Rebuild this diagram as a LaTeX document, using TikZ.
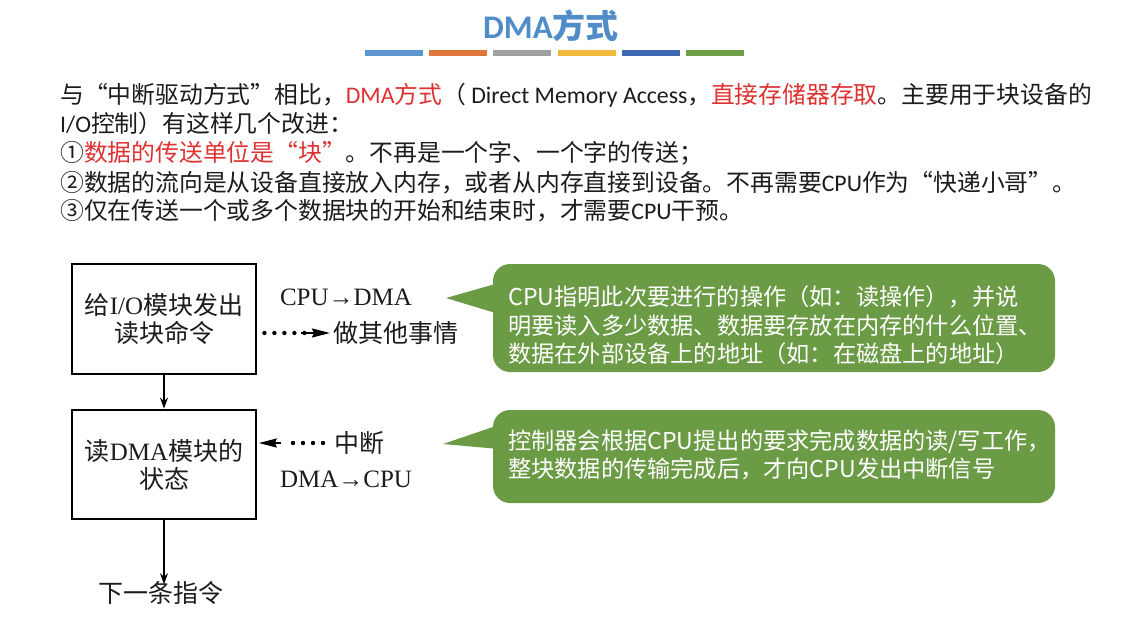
\documentclass[tikz,border=0pt]{standalone}
\usepackage{fontspec}
\setmainfont{Noto Sans CJK SC}
\newfontfamily\lat{Carlito}
\newfontfamily\ser{Liberation Serif}
\usetikzlibrary{arrows.meta,calc}
\definecolor{cg}{RGB}{108,155,70}
\definecolor{ttl}{RGB}{80,140,200}
\definecolor{txt}{RGB}{28,28,28}
\definecolor{red1}{RGB}{222,50,50}
\definecolor{b1}{RGB}{91,150,205}
\definecolor{b2}{RGB}{222,118,62}
\definecolor{b3}{RGB}{160,160,160}
\definecolor{b4}{RGB}{240,185,60}
\definecolor{b5}{RGB}{64,105,180}
\definecolor{b6}{RGB}{112,160,72}
\begin{document}
\begin{tikzpicture}[x=1pt,y=-1pt,
  para/.style={anchor=base west, inner sep=0pt, text=txt, font=\fontsize{23.8}{28}\selectfont},
  lbl/.style={inner sep=0pt, text=txt, font=\fontsize{25}{29}\selectfont},
  stepbox/.style={draw=black, line width=2.8pt, minimum width=184pt, align=center, inner sep=0pt, text=txt, font=\fontsize{25}{28}\selectfont},
  callout/.style={fill=cg, rounded corners=17pt, minimum width=562pt, inner sep=0pt},
  ctext/.style={anchor=base west, inner sep=0pt, text=white, font=\fontsize{23.2}{28}\selectfont},
  arr/.style={line width=1.5pt, -{Stealth[length=11pt,width=8pt]}},
  dotline/.style={line width=4.4pt, line cap=round, dash pattern=on 0pt off 10pt},
  headarr/.style={line width=2pt, -{Stealth[length=18pt,width=9pt,inset=2pt]}},
  bar/.style={minimum width=58pt, minimum height=6pt, inner sep=0pt}
]
\useasboundingbox (0,0) rectangle (1123,629);
\fill[white] (0,0) rectangle (1123,629);

% title
\node[inner sep=0pt, text=ttl, font=\fontsize{33}{36}\selectfont\bfseries] (title) at (551,26) {{\lat\bfseries DMA}方式};
\foreach \c [count=\i from 0] in {b1,b2,b3,b4,b5,b6}{
  \node[bar, fill=\c] (bar\i) at (394+64.2*\i,53) {};
}

% paragraph
\node[para] (l1) at (60,103) {与“中断驱动方式”相比，\textcolor{red1}{{\lat DMA}方式}（{\lat\ Direct Memory Access}，\textcolor{red1}{直接存储器存取}。主要用于块设备的};
\node[para] (l2) at (60,132) {{\lat I/O}控制）有这样几个改进：};
\node[para] (l3) at (60,161) {①\textcolor{red1}{数据的传送单位是“块”}。不再是一个字、一个字的传送；};
\node[para] (l4) at (60,191) {②数据的流向是从设备直接放入内存，或者从内存直接到设备。不再需要{\lat CPU}作为“快递小哥”。};
\node[para] (l5) at (60,219) {③仅在传送一个或多个数据块的开始和结束时，才需要{\lat CPU}干预。};

% flow boxes
\node[stepbox, minimum height=110pt] (box1) at (164,319) {给{\ser I/O}模块发出\\读块命令};
\node[stepbox, minimum height=109pt] (box2) at (164,464.5) {读{\ser DMA}模块的\\状态};
\node[lbl] (next) at (161,593) {下一条指令};
\draw[arr] (box1) -- (box2);
\draw[arr] (box2.south) -- ([yshift=-3pt]box2.south |- next.north);

\node[lbl, font=\fontsize{25}{29}\selectfont\ser] (cd) at (346,297) {CPU→DMA};
\node[lbl, anchor=west] (t1) at (333,333) {做其他事情};
\node[lbl, anchor=west] (t2) at (334,443) {中断};
\node[lbl, font=\fontsize{25}{29}\selectfont\ser] (dc) at (346,479) {DMA→CPU};

\coordinate (d1s) at (box1.east |- t1.west);
\draw[dotline] ([xshift=7pt]d1s) -- ([xshift=-28pt]t1.west);
\draw[headarr] ([xshift=-32pt]t1.west) -- ([xshift=-3pt]t1.west);
\coordinate (d2s) at (box2.east |- t2.west);
\draw[dotline] ([xshift=-11pt]t2.west) -- ([xshift=-51pt]t2.west);
\draw[headarr] ([xshift=24pt]d2s) -- ([xshift=1.4pt]d2s);

% callouts
\node[callout, minimum height=108pt] (c1) at (774,318) {};
\coordinate (p1) at (446,298);
\fill[cg] ($(c1.west)+(6,-35)$) -- (p1) -- ($(c1.west)+(6,-4)$) -- cycle;
\node[ctext] (c1a) at (508,305) {CPU指明此次要进行的操作（如：读操作），并说};
\node[ctext] (c1b) at (508,334) {明要读入多少数据、数据要存放在内存的什么位置、};
\node[ctext] (c1c) at (508,362) {数据在外部设备上的地址（如：在磁盘上的地址）};

\node[callout, minimum height=93pt] (c2) at (774,456.5) {};
\coordinate (p2) at (443,444);
\fill[cg] ($(c2.west)+(6,-31.5)$) -- (p2) -- ($(c2.west)+(6,-7.5)$) -- cycle;
\node[ctext] (c2a) at (508,449) {控制器会根据CPU提出的要求完成数据的读/写工作，};
\node[ctext] (c2b) at (508,477) {整块数据的传输完成后，才向CPU发出中断信号};
\end{tikzpicture}
\end{document}
